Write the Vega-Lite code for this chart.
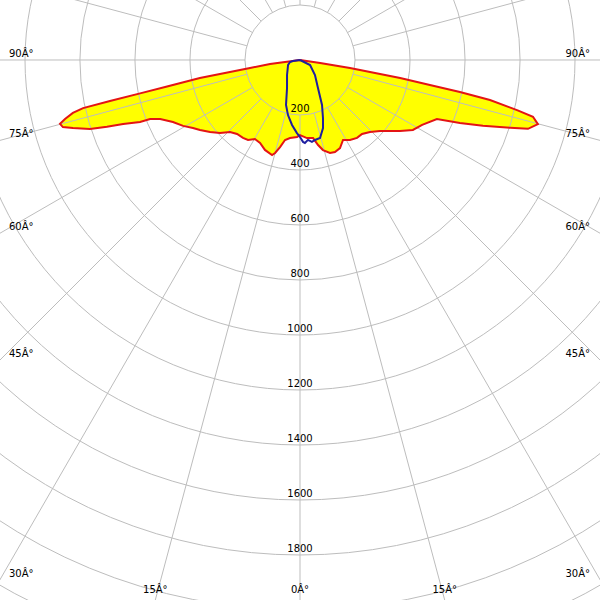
{
  "$schema": "https://vega.github.io/schema/vega-lite/v6.json",
  "width": 600,
  "height": 600,
  "padding": 0,
  "autosize": {"type": "none"},
  "background": "#ffffff",
  "config": {"view": {"stroke": null}, "text": {"font": "DejaVu Sans", "fontSize": 10, "color": "#000000"}},
  "datasets": {
    "red": [
      {"a": -90, "cd": 0}, {"a": -82.4, "cd": 110}, {"a": -80.9, "cd": 184}, {"a": -79.8, "cd": 370},
      {"a": -78.7, "cd": 493}, {"a": -78.2, "cd": 594}, {"a": -77.8, "cd": 707}, {"a": -77.5, "cd": 808},
      {"a": -76.9, "cd": 848}, {"a": -75.9, "cd": 881}, {"a": -75.1, "cd": 903}, {"a": -74.2, "cd": 896},
      {"a": -73.3, "cd": 862}, {"a": -71.8, "cd": 804}, {"a": -70.9, "cd": 743}, {"a": -70.1, "cd": 684},
      {"a": -68.8, "cd": 624}, {"a": -68.5, "cd": 586}, {"a": -67.1, "cd": 552}, {"a": -64.0, "cd": 514},
      {"a": -60.6, "cd": 488}, {"a": -57.6, "cd": 461}, {"a": -55.0, "cd": 444}, {"a": -51.3, "cd": 419},
      {"a": -47.6, "cd": 394}, {"a": -44.2, "cd": 365}, {"a": -40.4, "cd": 353}, {"a": -36.2, "cd": 351},
      {"a": -33.0, "cd": 347}, {"a": -29.7, "cd": 331}, {"a": -25.7, "cd": 335}, {"a": -21.3, "cd": 351},
      {"a": -16.4, "cd": 360}, {"a": -15.0, "cd": 350}, {"a": -12.9, "cd": 325}, {"a": -10.6, "cd": 296},
      {"a": -7.3, "cd": 286}, {"a": -2.2, "cd": 280}, {"a": 0, "cd": 273}, {"a": 5.1, "cd": 285},
      {"a": 9.5, "cd": 288}, {"a": 12.0, "cd": 316}, {"a": 14.3, "cd": 338}, {"a": 17.9, "cd": 355},
      {"a": 20.8, "cd": 358}, {"a": 24.4, "cd": 352}, {"a": 28.3, "cd": 330}, {"a": 32.0, "cd": 343},
      {"a": 36.2, "cd": 351}, {"a": 40.0, "cd": 351}, {"a": 44.2, "cd": 365}, {"a": 48.4, "cd": 389},
      {"a": 51.7, "cd": 417}, {"a": 54.6, "cd": 446}, {"a": 58.2, "cd": 483}, {"a": 62.0, "cd": 503},
      {"a": 66.7, "cd": 542}, {"a": 68.5, "cd": 625}, {"a": 70.2, "cd": 707}, {"a": 72.1, "cd": 803},
      {"a": 73.2, "cd": 866}, {"a": 74.9, "cd": 896}, {"a": 76.3, "cd": 872}, {"a": 77.0, "cd": 810},
      {"a": 78.1, "cd": 706}, {"a": 78.7, "cd": 593}, {"a": 79.1, "cd": 481}, {"a": 79.8, "cd": 370},
      {"a": 80.9, "cd": 184}, {"a": 81.5, "cd": 74}, {"a": 90, "cd": 0}
    ],
    "blue": [
      {"a": -90, "cd": 0}, {"a": -81.9, "cd": 26}, {"a": -78.7, "cd": 37}, {"a": -67.4, "cd": 47},
      {"a": -40.9, "cd": 72}, {"a": -24.9, "cd": 112}, {"a": -17.3, "cd": 171}, {"a": -12.3, "cd": 205},
      {"a": -7.0, "cd": 238}, {"a": -2.4, "cd": 266}, {"a": 0, "cd": 280}, {"a": 2.1, "cd": 298},
      {"a": 3.4, "cd": 302}, {"a": 5.7, "cd": 292}, {"a": 8.3, "cd": 301}, {"a": 10.6, "cd": 296},
      {"a": 14.4, "cd": 293}, {"a": 18.7, "cd": 261}, {"a": 21.6, "cd": 227}, {"a": 26.1, "cd": 182},
      {"a": 32.7, "cd": 121}, {"a": 45, "cd": 77}, {"a": 63.4, "cd": 41}, {"a": 90, "cd": 0}
    ],
    "rings": [
      {"r": 200}, {"r": 400}, {"r": 600}, {"r": 800}, {"r": 1000}, {"r": 1200},
      {"r": 1400}, {"r": 1600}, {"r": 1800}, {"r": 2000}, {"r": 2200}
    ],
    "ringLabels": [
      {"r": 200}, {"r": 400}, {"r": 600}, {"r": 800}, {"r": 1000}, {"r": 1200},
      {"r": 1400}, {"r": 1600}, {"r": 1800}
    ],
    "spokes": [
      {"a": 0}, {"a": 15}, {"a": 30}, {"a": 45}, {"a": 60}, {"a": 75}, {"a": 90}, {"a": 105},
      {"a": 120}, {"a": 135}, {"a": 150}, {"a": 165}, {"a": 180}, {"a": 195}, {"a": 210}, {"a": 225},
      {"a": 240}, {"a": 255}, {"a": 270}, {"a": 285}, {"a": 300}, {"a": 315}, {"a": 330}, {"a": 345}
    ],
    "sideLabels": [
      {"a": 90, "t": "90Â°"}, {"a": 75, "t": "75Â°"}, {"a": 60, "t": "60Â°"},
      {"a": 45, "t": "45Â°"}, {"a": 30, "t": "30Â°"}
    ],
    "bottomLabels": [
      {"a": -15, "t": "15Â°"}, {"a": 0, "t": "0Â°"}, {"a": 15, "t": "15Â°"}
    ]
  },
  "layer": [
    {
      "data": {"name": "red"},
      "transform": [
        {"calculate": "datum.cd*sin(datum.a*PI/180)", "as": "x"},
        {"calculate": "-datum.cd*cos(datum.a*PI/180)", "as": "y"}
      ],
      "mark": {"type": "line", "fill": "#ffff00", "strokeOpacity": 0, "clip": true},
      "encoding": {
        "x": {"field": "x", "type": "quantitative", "scale": {"domain": [-1090.91, 1090.91], "nice": false, "zero": false}, "axis": null},
        "y": {"field": "y", "type": "quantitative", "scale": {"domain": [-1963.64, 218.18], "nice": false, "zero": false}, "axis": null},
        "order": {"field": "a", "type": "quantitative"}
      }
    },
    {
      "data": {"name": "rings"},
      "mark": {"type": "arc", "filled": false, "color": "#bdbdbd", "strokeWidth": 1, "theta": 0, "theta2": 6.2832, "clip": true},
      "encoding": {
        "x": {"datum": 0, "type": "quantitative"},
        "y": {"datum": 0, "type": "quantitative"},
        "radius": {"field": "r", "type": "quantitative", "stack": null, "scale": {"type": "linear", "domain": [0, 1000], "range": [0, 275], "zero": true}, "legend": null}
      }
    },
    {
      "data": {"name": "spokes"},
      "transform": [
        {"calculate": "200*sin(datum.a*PI/180)", "as": "x1"},
        {"calculate": "-200*cos(datum.a*PI/180)", "as": "y1"},
        {"calculate": "2600*sin(datum.a*PI/180)", "as": "x2"},
        {"calculate": "-2600*cos(datum.a*PI/180)", "as": "y2"}
      ],
      "mark": {"type": "rule", "color": "#bdbdbd", "strokeWidth": 1, "clip": true},
      "encoding": {
        "x": {"field": "x1", "type": "quantitative"},
        "y": {"field": "y1", "type": "quantitative"},
        "x2": {"field": "x2"},
        "y2": {"field": "y2"}
      }
    },
    {
      "data": {"name": "red"},
      "transform": [
        {"calculate": "datum.cd*sin(datum.a*PI/180)", "as": "x"},
        {"calculate": "-datum.cd*cos(datum.a*PI/180)", "as": "y"}
      ],
      "mark": {"type": "line", "color": "#e41414", "strokeWidth": 2, "clip": true},
      "encoding": {
        "x": {"field": "x", "type": "quantitative"},
        "y": {"field": "y", "type": "quantitative"},
        "order": {"field": "a", "type": "quantitative"}
      }
    },
    {
      "data": {"name": "blue"},
      "transform": [
        {"calculate": "datum.cd*sin(datum.a*PI/180)", "as": "x"},
        {"calculate": "-datum.cd*cos(datum.a*PI/180)", "as": "y"}
      ],
      "mark": {"type": "line", "color": "#1e1ea0", "strokeWidth": 2, "clip": true},
      "encoding": {
        "x": {"field": "x", "type": "quantitative"},
        "y": {"field": "y", "type": "quantitative"},
        "order": {"field": "a", "type": "quantitative"}
      }
    },
    {
      "data": {"name": "ringLabels"},
      "transform": [{"calculate": "-datum.r", "as": "y"}],
      "mark": {"type": "text", "align": "center", "baseline": "alphabetic", "dy": -3},
      "encoding": {
        "x": {"datum": 0, "type": "quantitative"},
        "y": {"field": "y", "type": "quantitative"},
        "text": {"field": "r", "type": "quantitative", "format": "d"}
      }
    },
    {
      "data": {"name": "sideLabels"},
      "transform": [
        {"calculate": "-1090.91", "as": "x"},
        {"calculate": "-1090.91/tan(datum.a*PI/180)", "as": "y"}
      ],
      "mark": {"type": "text", "align": "left", "baseline": "alphabetic", "dx": 9, "dy": -3},
      "encoding": {
        "x": {"field": "x", "type": "quantitative"},
        "y": {"field": "y", "type": "quantitative"},
        "text": {"field": "t"}
      }
    },
    {
      "data": {"name": "sideLabels"},
      "transform": [
        {"calculate": "1090.91", "as": "x"},
        {"calculate": "-1090.91/tan(datum.a*PI/180)", "as": "y"}
      ],
      "mark": {"type": "text", "align": "right", "baseline": "alphabetic", "dx": -10, "dy": -3},
      "encoding": {
        "x": {"field": "x", "type": "quantitative"},
        "y": {"field": "y", "type": "quantitative"},
        "text": {"field": "t"}
      }
    },
    {
      "data": {"name": "bottomLabels"},
      "transform": [
        {"calculate": "1963.64*tan(datum.a*PI/180)", "as": "x"},
        {"calculate": "-1963.64", "as": "y"}
      ],
      "mark": {"type": "text", "align": "center", "baseline": "alphabetic", "dy": -7},
      "encoding": {
        "x": {"field": "x", "type": "quantitative"},
        "y": {"field": "y", "type": "quantitative"},
        "text": {"field": "t"}
      }
    }
  ]
}
